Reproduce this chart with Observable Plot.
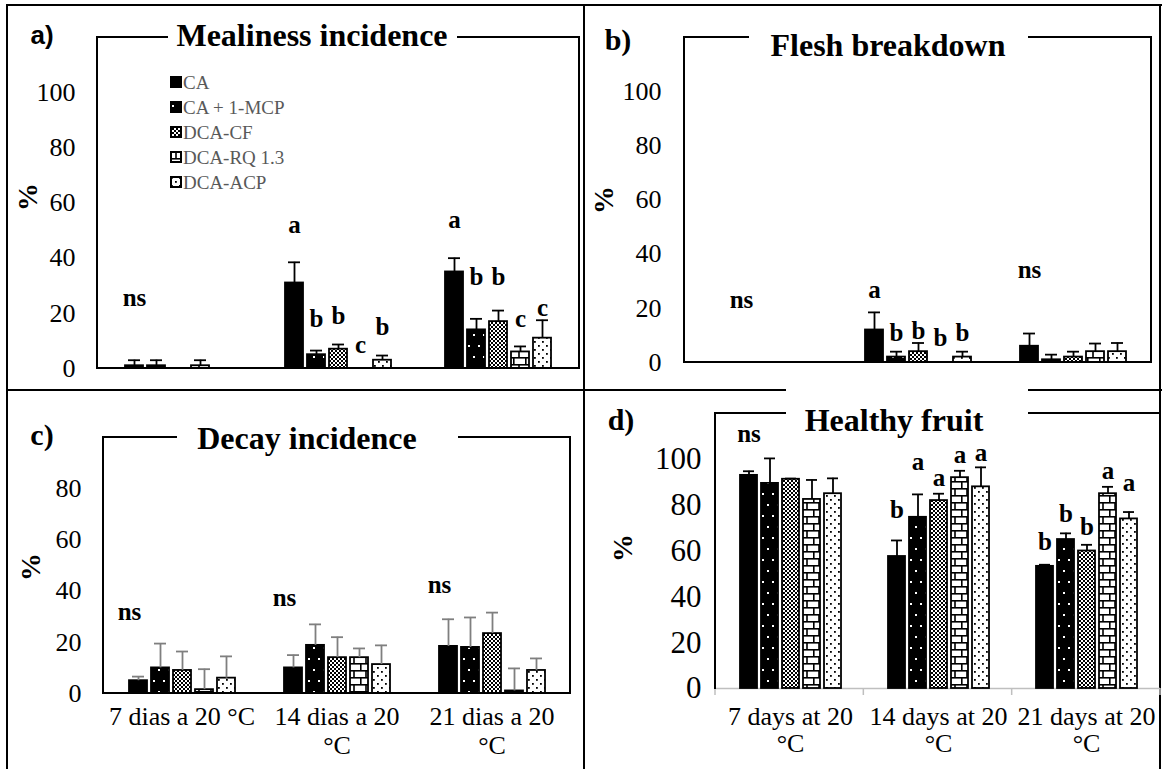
<!DOCTYPE html>
<html><head><meta charset="utf-8">
<script src="https://cdn.jsdelivr.net/npm/d3@7"></script>
<script src="https://cdn.jsdelivr.net/npm/@observablehq/plot@0.6"></script>
<style>
body{margin:0;background:#fff;}
#fig{position:relative;width:1162px;height:769px;overflow:hidden;font-family:"Liberation Serif","Times New Roman",serif;background:#fff;}
.abs{position:absolute;}
</style></head><body>
<svg width="0" height="0" style="position:absolute">
<defs>
<pattern id="pMCP" patternUnits="userSpaceOnUse" width="10" height="22">
 <rect width="10" height="22" fill="black"/>
 <rect x="2" y="4" width="2" height="2" fill="white"/>
 <rect x="7" y="15" width="2" height="2" fill="white"/>
</pattern>
<pattern id="pCF" patternUnits="userSpaceOnUse" width="4" height="4">
 <rect width="4" height="4" fill="white"/>
 <rect width="2" height="2" fill="black"/>
 <rect x="2" y="2" width="2" height="2" fill="black"/>
</pattern>
<pattern id="pRQ" patternUnits="userSpaceOnUse" width="12" height="14">
 <rect width="12" height="14" fill="white"/>
 <rect y="0" width="12" height="1.6" fill="black"/>
 <rect y="7" width="12" height="1.6" fill="black"/>
 <rect x="5.2" y="0" width="1.6" height="7" fill="black"/>
 <rect x="0" y="7" width="1.6" height="7" fill="black"/>
</pattern>
<pattern id="pACP" patternUnits="userSpaceOnUse" width="8" height="8">
 <rect width="8" height="8" fill="white"/>
 <rect x="1" y="1" width="1.8" height="1.8" fill="black"/>
 <rect x="5" y="5" width="1.8" height="1.8" fill="black"/>
</pattern>
</defs></svg>
<div id="fig"></div>
<script>
// ---------- data ----------
const treatments = ["CA", "CA + 1-MCP", "DCA-CF", "DCA-RQ 1.3", "DCA-ACP"];
const periods = ["7 d", "14 d", "21 d"];
const periodLabelsPt = [["7 dias a 20 °C"], ["14 dias a 20", "°C"], ["21 dias a 20", "°C"]];
const periodLabelsEn = [["7 days at 20", "°C"], ["14 days at 20", "°C"], ["21 days at 20", "°C"]];
const yTicks100 = [0, 20, 40, 60, 80, 100];
const yTicks80 = [0, 20, 40, 60, 80];

// a) Mealiness incidence (%)
const mealinessMean = [[1, 1, 0, 1, 0], [31, 5, 7, 0, 3], [35, 14, 17, 6, 11]];
const mealinessSD = [[2, 2, 0, 2, 0], [7.5, 1.5, 1.7, 0, 1.7], [5, 4, 4, 2, 6.5]];
const mealinessLetters = [["ns", "", "", "", ""], ["a", "b", "b", "c", "b"], ["a", "b", "b", "c", "c"]];
const mealinessLetterY = [[25.5, null, null, null, null], [52, 18, 19, 8.4, 15], [54, 33, 33, 18, 22]];

// b) Flesh breakdown (%)
const fleshMean = [[0, 0, 0, 0, 0], [12, 2, 4, 0, 2], [6, 1, 2, 4, 4]];
const fleshSD = [[0, 0, 0, 0, 0], [6.5, 2, 3.2, 0, 2], [4.7, 1.9, 2, 3, 3.2]];
const fleshLetters = [["", "ns", "", "", ""], ["a", "b", "b", "b", "b"], ["ns", "", "", "", ""]];
const fleshLetterY = [[null, 23, null, null, null], [26.7, 11, 11.5, 9, 11], [34, null, null, null, null]];

// c) Decay incidence (%)
const decayMean = [[5, 10, 9, 1.5, 6], [10, 18.8, 14, 14, 11.3], [18.4, 18, 23.4, 1, 9]];
const decaySD = [[1.6, 9.5, 7.4, 8, 8.5], [5, 8.2, 8, 3.6, 7.5], [10.6, 11.7, 8.2, 8.8, 4.7]];
const decayLetters = [["ns", "", "", "", ""], ["ns", "", "", "", ""], ["ns", "", "", "", ""]];
const decayLetterY = [[32, null, null, null, null], [37.5, null, null, null, null], [42.5, null, null, null, null]];

// d) Healthy fruit (%)
const healthyMean = [[93, 89.5, 91.3, 82.5, 85], [57.6, 74.7, 82, 92, 88], [53.3, 65, 60, 85, 74]];
const healthySD = [[1.8, 10.9, 0.3, 8.5, 6.7], [7, 10, 3, 3, 8.5], [0.7, 2.7, 2.7, 3, 3]];
const healthyLetters = [["ns", "", "", "", ""], ["b", "a", "a", "a", "a"], ["b", "b", "b", "a", "a"]];
const healthyLetterY = [[111, null, null, null, null], [77.7, 99, 92, 101.7, 102.6], [64, 76, 70.5, 95, 89.5]];

// ---------- styling / layout ----------
const fills = ["black", "url(#pMCP)", "url(#pCF)", "url(#pRQ)", "url(#pACP)"];
const SERIF = '"Liberation Serif", "Times New Roman", serif';

const panels = [
  {mean: mealinessMean, sd: mealinessSD, letters: mealinessLetters, ly: mealinessLetterY,
   title: "Mealiness incidence", tag: "a)", tagFont: '"Liberation Sans", Arial, sans-serif', tagSize: 26,
   left: 0, top: 0, width: 584, height: 390, ml: 97, mr: 5, mt: 37, mb: 22,
   ymax: 120, ticks: yTicks100, yPad: 23, fontSize: 26, pi: 0.19, po: 1.21, errColor: "black", letterDx: 0,
   xLabels: null, frame: "2px", titleBox: [168, 457, 15, 55], titleC: [312, 35], tagC: [42, 35], pctC: [28, 197], legend: true},
  {mean: fleshMean, sd: fleshSD, letters: fleshLetters, ly: fleshLetterY,
   title: "Flesh breakdown", tag: "b)", tagFont: SERIF, tagSize: 30,
   left: 584, top: 0, width: 578, height: 390, ml: 100, mr: 11, mt: 37, mb: 28,
   ymax: 120, ticks: yTicks100, yPad: 24, fontSize: 26, pi: 0.19, po: 1.09, errColor: "black", letterDx: 0,
   xLabels: null, frame: "2px", titleBox: [749, 1028, 20, 62], titleC: [888, 45], tagC: [618, 40], pctC: [604, 200]},
  {mean: decayMean, sd: decaySD, letters: decayLetters, ly: decayLetterY,
   title: "Decay incidence", tag: "c)", tagFont: SERIF, tagSize: 30,
   left: 0, top: 390, width: 584, height: 379, ml: 103, mr: 14, mt: 47, mb: 76,
   ymax: 100, ticks: yTicks80, yPad: 23, fontSize: 26, pi: 0.19, po: 1.1, errColor: "#7f7f7f", letterDx: -9,
   xLabels: periodLabelsPt, xDy: [31, 60], frame: "2px", titleBox: [177, 458, 418, 458], titleC: [307, 438], tagC: [42, 435], pctC: [31, 567]},
  {mean: healthyMean, sd: healthySD, letters: healthyLetters, ly: healthyLetterY,
   title: "Healthy fruit", tag: "d)", tagFont: SERIF, tagSize: 30,
   left: 584, top: 390, width: 578, height: 379, ml: 131, mr: 2, mt: 23, mb: 81,
   ymax: 120, ticks: yTicks100, yPad: 15, fontSize: 31, pi: 0.21, po: 1.06, errColor: "black", letterDx: 0,
   xLabels: periodLabelsEn, xDy: [36, 63], frame: "2px 0 0 2px", greyAxis: true,
   titleBox: [786, 1028, 386, 440], titleC: [894, 420], tagC: [621, 420], pctC: [623, 548]}
];

const fig = document.getElementById("fig");
function addDiv(style, text) {
  const d = document.createElement("div");
  d.className = "abs";
  Object.assign(d.style, style);
  if (text != null) d.textContent = text;
  fig.appendChild(d);
  return d;
}

// outer borders and dividers
addDiv({left: "6px", top: "4px", width: "1156px", height: "2px", background: "#000"});
addDiv({left: "6px", top: "4px", width: "2px", height: "765px", background: "#000"});
addDiv({left: "1159px", top: "4px", width: "2px", height: "765px", background: "#000"});
addDiv({left: "583px", top: "4px", width: "2px", height: "765px", background: "#000"});
addDiv({left: "6px", top: "389px", width: "1156px", height: "2px", background: "#000"});

function makeRows(mean, sd, letters, ly) {
  const out = [];
  periods.forEach((p, i) => treatments.forEach((t, j) => out.push({
    period: p, t, v: mean[i][j], sd: sd[i][j], top: mean[i][j] + sd[i][j],
    letter: letters[i][j], ly: ly[i][j]
  })));
  return out;
}

for (const c of panels) {
  const rows = makeRows(c.mean, c.sd, c.letters, c.ly);
  const marks = [];
  if (c.greyAxis) marks.push(Plot.ruleY([0], {stroke: "#bfbfbf", strokeWidth: 1.5}));
  treatments.forEach((t, j) => {
    marks.push(Plot.barY(rows.filter(d => d.t === t && d.v > 0),
      {fx: "period", x: "t", y: "v", fill: fills[j], stroke: "black", strokeWidth: 1.8}));
  });
  const errs = rows.filter(d => d.v > 0 && d.sd > 0);
  marks.push(Plot.ruleX(errs, {fx: "period", x: "t", y1: "v", y2: "top", stroke: c.errColor, strokeWidth: 1.8}));
  marks.push(Plot.tickY(errs, {fx: "period", x: "t", y: "top", stroke: c.errColor, strokeWidth: 1.8, insetLeft: 3, insetRight: 3}));
  marks.push(Plot.text(rows.filter(d => d.letter), {fx: "period", x: "t", y: "ly", text: "letter",
    fontWeight: "bold", fontSize: 25, fontFamily: SERIF, dx: c.letterDx}));
  if (c.xLabels) {
    const lab = [];
    periods.forEach((p, i) => c.xLabels[i].forEach((s, k) => lab.push({period: p, s, k})));
    [0, 1].forEach(k => marks.push(Plot.text(lab.filter(d => d.k === k),
      {fx: "period", text: "s", frameAnchor: "bottom", dy: c.xDy[k], fontSize: 26, fontFamily: SERIF})));
  }

  const svg = Plot.plot({
    width: c.width, height: c.height,
    marginLeft: c.ml, marginRight: c.mr, marginTop: c.mt, marginBottom: c.mb,
    style: {fontFamily: SERIF, fontSize: c.fontSize + "px", color: "black", background: "transparent", overflow: "visible"},
    fx: {domain: periods, padding: 0, axis: null, label: null},
    x: {domain: treatments, paddingInner: c.pi, paddingOuter: c.po, axis: null},
    y: {domain: [0, c.ymax], ticks: c.ticks, tickSize: 0, tickPadding: c.yPad, label: null},
    marks
  });
  svg.style.position = "absolute";
  svg.style.left = c.left + "px";
  svg.style.top = c.top + "px";
  svg.style.maxWidth = "none";
  d3.select(svg).selectAll("text").attr("font-family", SERIF);

  if (c.greyAxis) {
    const iw = c.width - c.ml - c.mr, y0 = c.height - c.mb;
    const g = d3.select(svg).append("g").attr("stroke", "#bfbfbf").attr("stroke-width", 1.5);
    d3.range(periods.length + 1).forEach(k => {
      const x = c.ml + k * iw / periods.length;
      g.append("line").attr("x1", x).attr("x2", x).attr("y1", y0).attr("y2", y0 + 7);
    });
  }
  fig.appendChild(svg);

  // frame
  addDiv({left: (c.left + c.ml - 1) + "px", top: (c.top + c.mt - 1) + "px",
    width: (c.width - c.ml - c.mr + 2) + "px", height: (c.height - c.mt - c.mb + 2) + "px",
    boxSizing: "border-box", borderStyle: "solid", borderColor: "#000", borderWidth: c.frame});
  // title gap + title
  addDiv({left: c.titleBox[0] + "px", top: c.titleBox[2] + "px", width: (c.titleBox[1] - c.titleBox[0]) + "px",
    height: (c.titleBox[3] - c.titleBox[2]) + "px", background: "#fff"});
  addDiv({left: c.titleC[0] + "px", top: c.titleC[1] + "px", transform: "translate(-50%,-50%)",
    fontFamily: SERIF, fontWeight: "bold", fontSize: "32px", lineHeight: "1", whiteSpace: "nowrap"}, c.title);
  // panel tag
  addDiv({left: c.tagC[0] + "px", top: c.tagC[1] + "px", transform: "translate(-50%,-50%)",
    fontFamily: c.tagFont, fontWeight: "bold", fontSize: c.tagSize + "px", lineHeight: "1", whiteSpace: "nowrap"}, c.tag);
  // y axis label
  addDiv({left: c.pctC[0] + "px", top: c.pctC[1] + "px", transform: "translate(-50%,-50%) rotate(-90deg)",
    fontFamily: SERIF, fontWeight: "bold", fontSize: "28px", lineHeight: "1", whiteSpace: "nowrap"}, "%");

  if (c.legend) {
    treatments.forEach((t, j) => {
      const cy = 82 + j * 25;
      const sw = document.createElementNS("http://www.w3.org/2000/svg", "svg");
      sw.setAttribute("width", 12); sw.setAttribute("height", 12);
      sw.style.position = "absolute"; sw.style.left = "170px"; sw.style.top = (cy - 6) + "px";
      const r = document.createElementNS("http://www.w3.org/2000/svg", "rect");
      r.setAttribute("x", 1); r.setAttribute("y", 1); r.setAttribute("width", 10); r.setAttribute("height", 10);
      r.setAttribute("fill", fills[j]); r.setAttribute("stroke", "black"); r.setAttribute("stroke-width", 2);
      sw.appendChild(r);
      fig.appendChild(sw);
      addDiv({left: "183px", top: cy + "px", transform: "translateY(-50%)", fontFamily: SERIF,
        fontSize: "19px", lineHeight: "1", color: "#595959", whiteSpace: "nowrap"}, t);
    });
  }
}
</script></body></html>
